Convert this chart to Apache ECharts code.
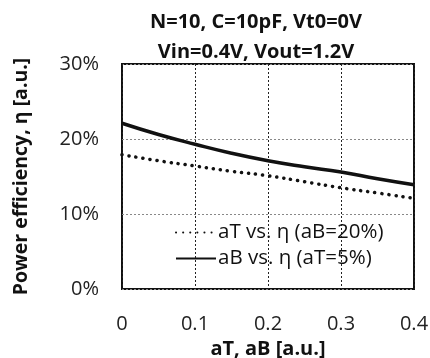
<!DOCTYPE html>
<html>
<head>
<meta charset="utf-8">
<script src="https://cdn.jsdelivr.net/npm/echarts@6/dist/echarts.min.js"></script>
<style>
  html, body { margin: 0; padding: 0; background: #fff; }
  #chart { width: 430px; height: 358px; }
</style>
</head>
<body>
<div id="chart"></div>
<script>
// data
const xValues = [0, 0.05, 0.1, 0.15, 0.2, 0.25, 0.3, 0.35, 0.4];
const aTvsEta = [17.9, 17.1, 16.4, 15.7, 15.1, 14.3, 13.5, 12.8, 12.1];   // dotted, aB=20%
const aBvsEta = [22.1, 20.6, 19.3, 18.1, 17.1, 16.3, 15.6, 14.7, 13.9];   // solid, aT=5%
const seriesNames = ['aT vs. η (aB=20%)', 'aB vs. η (aT=5%)'];
const titleLines = ['N=10, C=10pF, Vt0=0V', 'Vin=0.4V, Vout=1.2V'];

const font = '"Open Sans", sans-serif';

function pairs(xs, ys) {
    return xs.map((x, i) => [x, ys[i]]);
}

const chart = echarts.init(document.getElementById('chart'));
chart.setOption({
    animation: false,
    title: {
        text: titleLines.join('\n'),
        left: 251,
        textAlign: 'center',
        top: 2,
        textStyle: {
            fontFamily: font,
            fontWeight: 'bold',
            fontSize: 20,
            lineHeight: 30,
            color: '#111'
        }
    },
    grid: {
        left: 122,
        right: 16,
        top: 64,
        bottom: 69,
        outerBoundsMode: 'none',
        show: true,
        borderColor: '#111',
        borderWidth: 2
    },
    legend: {
        orient: 'vertical',
        left: 170,
        top: 217,
        itemWidth: 40,
        itemHeight: 14,
        itemGap: 5,
        data: seriesNames,
        itemStyle: { opacity: 0 },
        textStyle: {
            fontFamily: font,
            fontSize: 20.5,
            color: '#111',
            padding: [0, 0, 0, -3]
        }
    },
    xAxis: {
        type: 'value',
        min: 0,
        max: 0.4,
        interval: 0.1,
        name: 'aT, aB [a.u.]',
        nameLocation: 'middle',
        nameGap: 47,
        nameTextStyle: {
            fontFamily: font,
            fontWeight: 'bold',
            fontSize: 20,
            color: '#111'
        },
        axisLine: { show: false },
        axisTick: { show: false },
        axisLabel: {
            margin: 25,
            fontFamily: font,
            fontSize: 20,
            color: '#222',
            formatter: v => (v === 0 ? '0' : v.toFixed(1))
        },
        splitLine: {
            show: true,
            lineStyle: { color: '#222', type: [2, 2], width: 1 }
        }
    },
    yAxis: {
        type: 'value',
        min: 0,
        max: 30,
        interval: 10,
        name: 'Power efficiency, η [a.u.]',
        nameLocation: 'middle',
        nameGap: 91,
        nameTextStyle: {
            fontFamily: font,
            fontWeight: 'bold',
            fontSize: 19.5,
            color: '#111'
        },
        axisLine: { show: false },
        axisTick: { show: false },
        axisLabel: {
            margin: 23,
            fontFamily: font,
            fontSize: 20,
            color: '#222',
            formatter: '{value}%'
        },
        splitLine: {
            show: true,
            lineStyle: { color: '#888', type: [2, 2], width: 1 }
        }
    },
    series: [
        {
            name: seriesNames[0],
            type: 'line',
            smooth: true,
            symbol: 'none',
            data: pairs(xValues, aTvsEta),
            lineStyle: { color: '#111', width: 3.5, type: [0.1, 7], cap: 'round' },
            itemStyle: { color: '#111' }
        },
        {
            name: seriesNames[1],
            type: 'line',
            smooth: true,
            symbol: 'none',
            data: pairs(xValues, aBvsEta),
            lineStyle: { color: '#111', width: 3.5 },
            itemStyle: { color: '#111' }
        }
    ]
});
</script>
</body>
</html>
